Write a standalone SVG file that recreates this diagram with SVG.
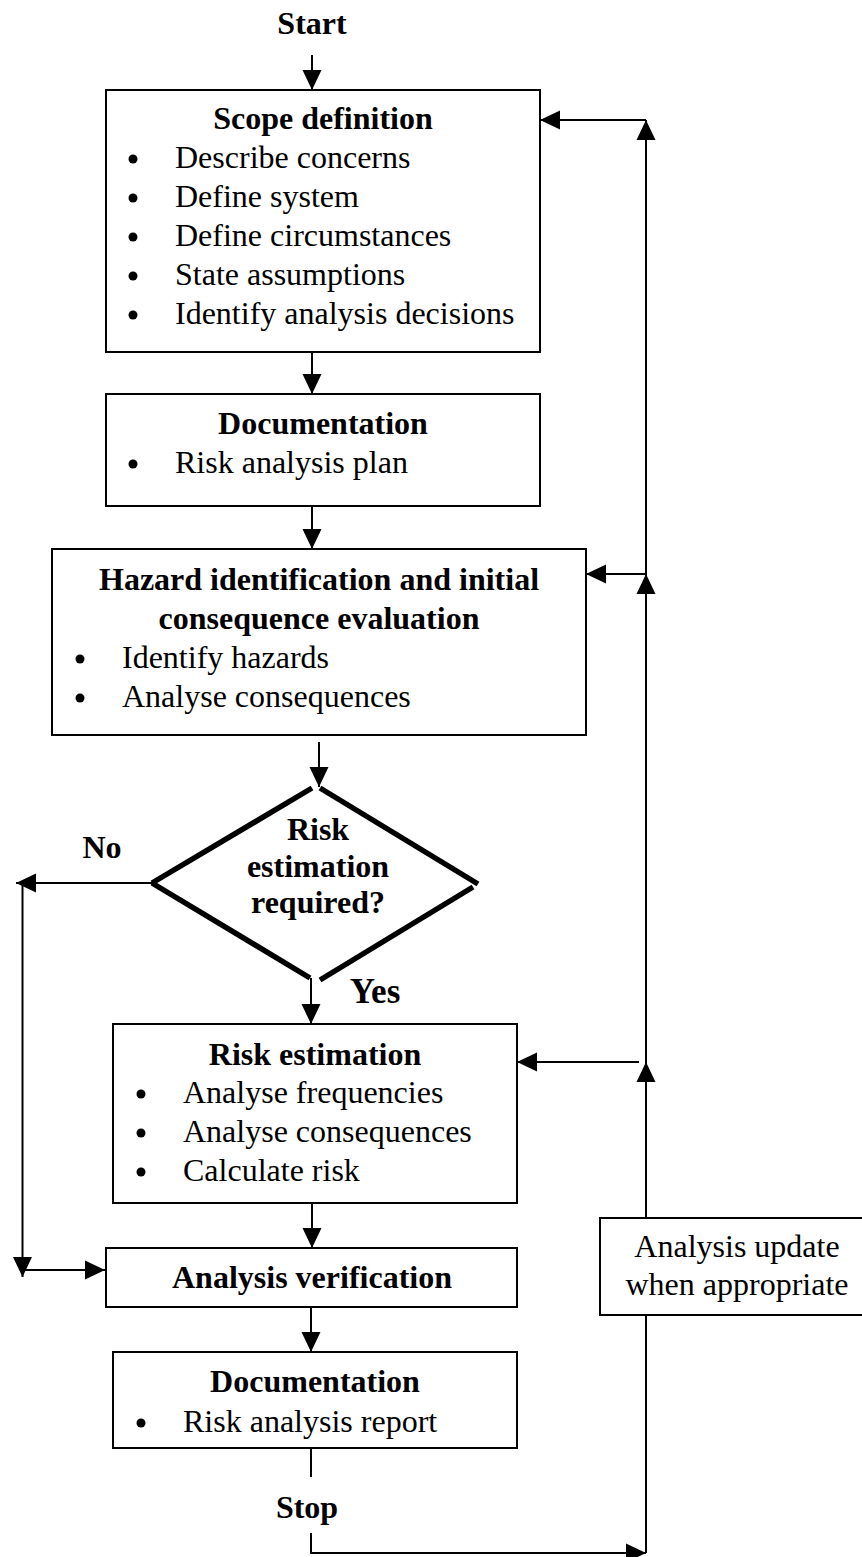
<svg xmlns="http://www.w3.org/2000/svg" width="862" height="1557" viewBox="0 0 862 1557">
<defs>
<marker id="ah" markerUnits="userSpaceOnUse" markerWidth="20" markerHeight="20" refX="20" refY="10" orient="auto" viewBox="0 0 20 20">
<path d="M0,0.5 L20,10 L0,19.5 z" fill="#000"/>
</marker>
<style>
.box{fill:#fff;stroke:#000;stroke-width:2}
.t{font-family:"Liberation Serif","Times New Roman",serif;font-size:32px;fill:#000}
.b{font-weight:bold}
.c{text-anchor:middle}
.ln{fill:none;stroke:#000;stroke-width:2}
.ar{fill:none;stroke:#000;stroke-width:2;marker-end:url(#ah)}
.dm{fill:none;stroke:#000;stroke-width:5.5}
.dot{fill:#000}
</style>
</defs>
<rect width="862" height="1557" fill="#fff"/>

<g id="start">
<text class="t b c" x="312" y="34">Start</text>
</g>

<g id="scope">
<rect class="box" x="106" y="90" width="434" height="262"/>
<text class="t b c" x="323" y="129">Scope definition</text>
<circle class="dot" cx="133" cy="159" r="4.5"/><text class="t" x="175" y="168">Describe concerns</text>
<circle class="dot" cx="133" cy="198" r="4.5"/><text class="t" x="175" y="207">Define system</text>
<circle class="dot" cx="133" cy="237" r="4.5"/><text class="t" x="175" y="246">Define circumstances</text>
<circle class="dot" cx="133" cy="276" r="4.5"/><text class="t" x="175" y="285">State assumptions</text>
<circle class="dot" cx="133" cy="315" r="4.5"/><text class="t" x="175" y="324">Identify analysis decisions</text>
</g>

<g id="doc1">
<rect class="box" x="106" y="394" width="434" height="112"/>
<text class="t b c" x="323" y="434">Documentation</text>
<circle class="dot" cx="133" cy="464" r="4.5"/><text class="t" x="175" y="473">Risk analysis plan</text>
</g>

<g id="hazard">
<rect class="box" x="52" y="549" width="534" height="186"/>
<text class="t b c" x="319" y="590">Hazard identification and initial</text>
<text class="t b c" x="319" y="629">consequence evaluation</text>
<circle class="dot" cx="80" cy="659" r="4.5"/><text class="t" x="122" y="668">Identify hazards</text>
<circle class="dot" cx="80" cy="698" r="4.5"/><text class="t" x="122" y="707">Analyse consequences</text>
</g>

<g id="decision">
<line class="dm" x1="312" y1="788" x2="152" y2="883"/>
<line class="dm" x1="152" y1="883" x2="310" y2="978"/>
<line class="dm" x1="320" y1="788" x2="478" y2="884"/>
<line class="dm" x1="473" y1="887" x2="320" y2="980"/>
<text class="t b c" x="318" y="840">Risk</text>
<text class="t b c" x="318" y="877">estimation</text>
<text class="t b c" x="318" y="913">required?</text>
</g>

<g id="label-no">
<text class="t b c" x="102" y="858">No</text>
</g>
<g id="label-yes">
<text class="t b c" x="375" y="1003" style="font-size:35px">Yes</text>
</g>

<g id="riskest">
<rect class="box" x="113" y="1024" width="404" height="179"/>
<text class="t b c" x="315" y="1065">Risk estimation</text>
<circle class="dot" cx="141" cy="1094" r="4.5"/><text class="t" x="183" y="1103">Analyse frequencies</text>
<circle class="dot" cx="141" cy="1133" r="4.5"/><text class="t" x="183" y="1142">Analyse consequences</text>
<circle class="dot" cx="141" cy="1172" r="4.5"/><text class="t" x="183" y="1181">Calculate risk</text>
</g>

<g id="verify">
<rect class="box" x="106" y="1248" width="411" height="59"/>
<text class="t b c" x="312" y="1288">Analysis verification</text>
</g>

<g id="doc2">
<rect class="box" x="113" y="1352" width="404" height="96"/>
<text class="t b c" x="315" y="1392">Documentation</text>
<circle class="dot" cx="141" cy="1423" r="4.5"/><text class="t" x="183" y="1432">Risk analysis report</text>
</g>

<g id="stop">
<text class="t b c" x="307" y="1518">Stop</text>
</g>

<g id="update">
<rect class="box" x="600" y="1218" width="265" height="97"/>
<text class="t c" x="737" y="1257">Analysis update</text>
<text class="t c" x="737" y="1295">when appropriate</text>
</g>

<g id="connectors">
<line class="ar" x1="312" y1="55" x2="312" y2="90"/>
<line class="ar" x1="312" y1="352" x2="312" y2="394"/>
<line class="ar" x1="312" y1="506" x2="312" y2="549"/>
<line class="ar" x1="319" y1="742" x2="319" y2="787"/>
<polyline class="ar" points="152,883 16,883"/>
<line class="ar" x1="22.5" y1="883" x2="22.5" y2="1277"/>
<line class="ar" x1="22.5" y1="1270" x2="105" y2="1270"/>
<line class="ar" x1="311" y1="978" x2="311" y2="1024"/>
<line class="ar" x1="312" y1="1203" x2="312" y2="1248"/>
<line class="ar" x1="311" y1="1307" x2="311" y2="1352"/>
<line class="ln" x1="311" y1="1448" x2="311" y2="1477"/>
<polyline class="ar" points="311,1533 311,1553 646,1553"/>
<line class="ln" x1="646" y1="1553" x2="646" y2="1315"/>
<line class="ar" x1="646" y1="1218" x2="646" y2="1062"/>
<line class="ar" x1="646" y1="1062" x2="646" y2="574"/>
<line class="ar" x1="646" y1="574" x2="646" y2="120"/>
<line class="ar" x1="646" y1="120" x2="540" y2="120"/>
<line class="ar" x1="646" y1="574" x2="586" y2="574"/>
<line class="ar" x1="639" y1="1062" x2="517" y2="1062"/>
</g>
</svg>
